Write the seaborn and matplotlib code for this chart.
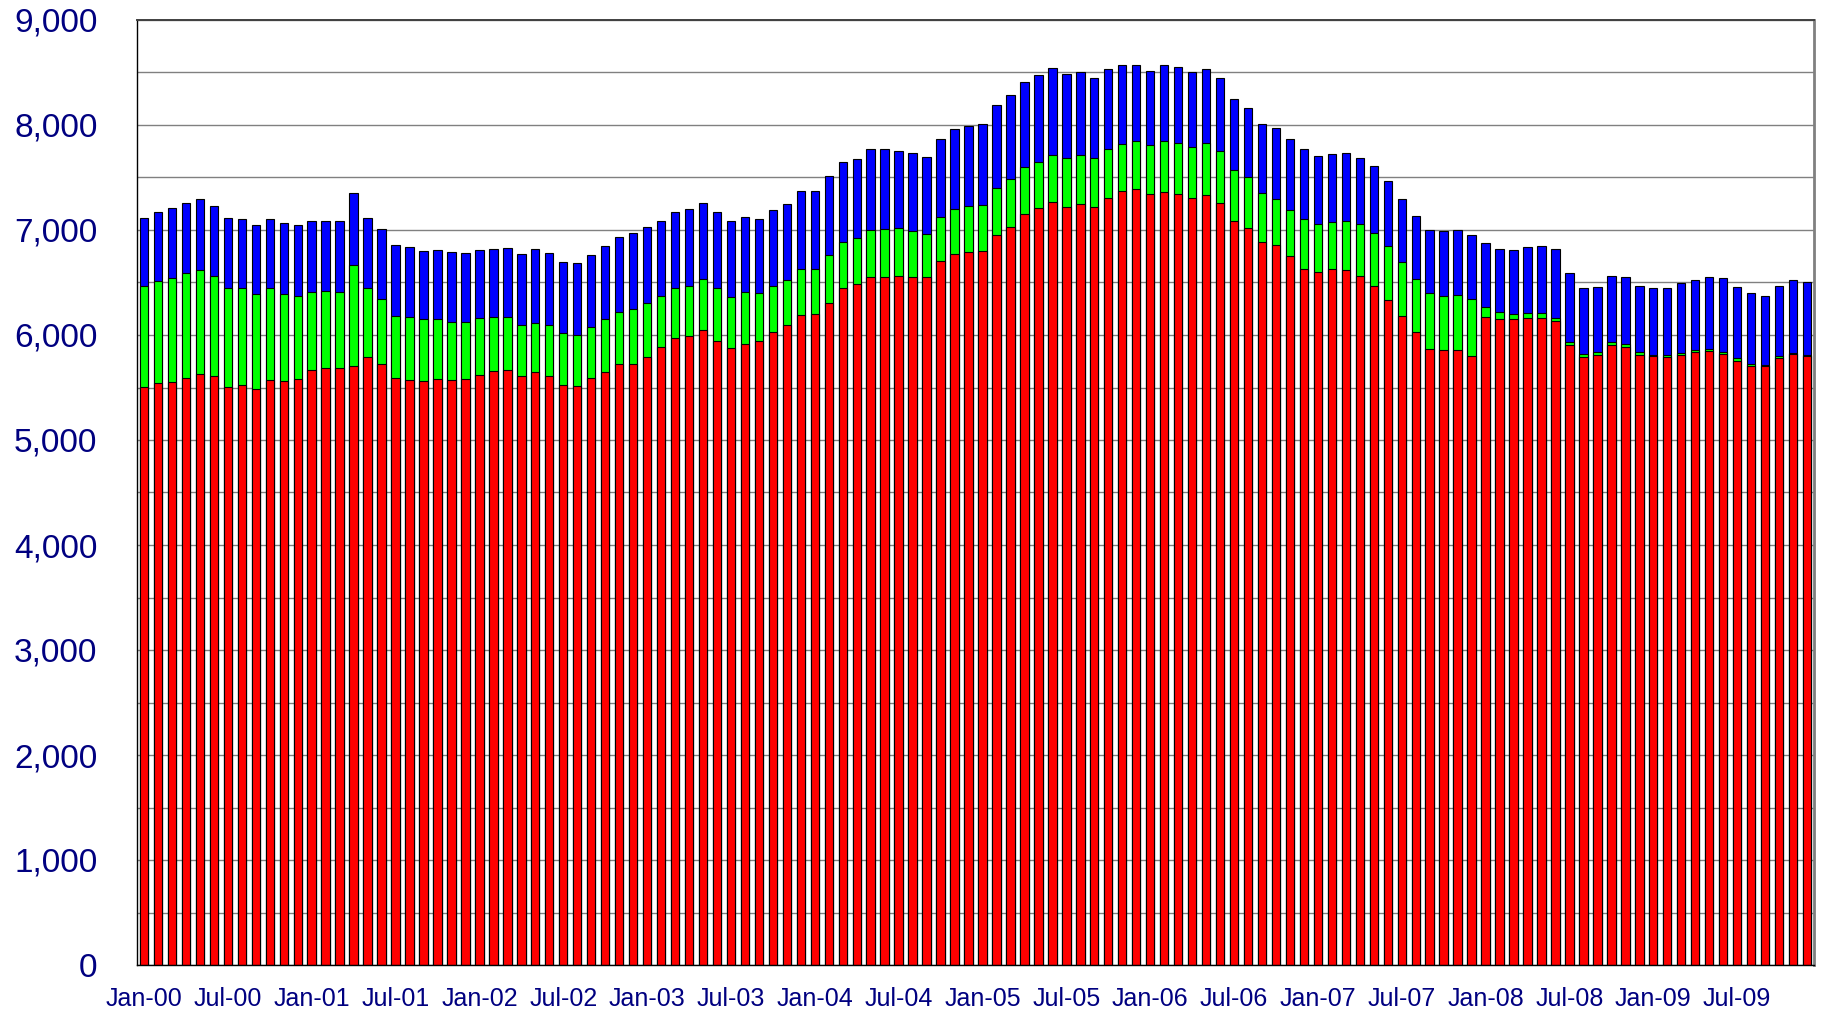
import numpy as np
import pandas as pd
import matplotlib
matplotlib.use("Agg")
import matplotlib.pyplot as plt
import seaborn as sns

# ---- data ----
red = [5506, 5547, 5554, 5595, 5633, 5614, 5509, 5522, 5490, 5576, 5566, 5585,
       5665, 5690, 5684, 5706, 5795, 5722, 5589, 5576, 5560, 5579, 5570, 5585,
       5620, 5658, 5665, 5614, 5643, 5614, 5528, 5519, 5592, 5646, 5728, 5728,
       5795, 5881, 5967, 5986, 6043, 5947, 5875, 5910, 5941, 6027, 6093, 6189,
       6198, 6309, 6443, 6487, 6548, 6554, 6560, 6554, 6548, 6709, 6767, 6786,
       6798, 6957, 7033, 7154, 7211, 7268, 7221, 7249, 7221, 7303, 7376, 7392,
       7341, 7363, 7347, 7300, 7335, 7259, 7084, 7021, 6890, 6854, 6749, 6625,
       6600, 6625, 6622, 6562, 6463, 6330, 6181, 6028, 5870, 5857, 5857, 5797,
       6174, 6155, 6149, 6162, 6159, 6130, 5908, 5790, 5813, 5908, 5889, 5813,
       5797, 5787, 5806, 5838, 5844, 5816, 5749, 5701, 5701, 5781, 5816, 5800]
green = [959, 969, 990, 991, 984, 946, 940, 921, 896, 867, 826, 791,
         746, 731, 721, 965, 654, 625, 590, 597, 591, 572, 552, 543,
         544, 516, 508, 483, 476, 483, 492, 482, 486, 505, 492, 518,
         514, 489, 482, 485, 492, 502, 489, 501, 457, 441, 429, 441,
         432, 454, 444, 438, 450, 457, 457, 435, 412, 416, 435, 444,
         438, 444, 454, 447, 438, 448, 463, 464, 463, 470, 445, 451,
         467, 480, 483, 486, 495, 489, 489, 482, 465, 444, 445, 483,
         460, 454, 467, 492, 511, 521, 517, 508, 530, 517, 527, 549,
         96, 61, 54, 51, 47, 35, 28, 32, 25, 25, 28, 25,
         16, 19, 26, 19, 26, 25, 35, 19, 16, 16, 16, 13]
blue = [654, 654, 670, 673, 677, 673, 670, 660, 666, 666, 673, 676,
        673, 669, 685, 683, 670, 667, 676, 667, 647, 663, 667, 654,
        641, 647, 660, 670, 702, 685, 677, 680, 682, 695, 715, 724,
        715, 720, 721, 727, 724, 727, 726, 711, 711, 721, 721, 737,
        737, 750, 756, 753, 769, 762, 740, 746, 732, 739, 760, 760,
        774, 790, 800, 810, 826, 825, 806, 793, 762, 762, 752, 730,
        705, 730, 718, 714, 705, 698, 670, 660, 655, 673, 676, 660,
        642, 645, 644, 635, 632, 619, 597, 597, 597, 613, 613, 603,
        603, 603, 606, 628, 642, 654, 658, 626, 616, 629, 632, 632,
        635, 642, 660, 670, 679, 702, 676, 677, 658, 673, 692, 695]
month_names = ["Jan", "Feb", "Mar", "Apr", "May", "Jun",
               "Jul", "Aug", "Sep", "Oct", "Nov", "Dec"]
years = list(range(2000, 2010))
months = [f"{m}-{y % 100:02d}" for y in years for m in month_names]
y_ticks = list(range(0, 9001, 1000))

df = pd.DataFrame({"month": months, "red": red, "green": green, "blue": blue})
df["c_red"] = df["red"]
df["c_green"] = df["red"] + df["green"]
df["c_total"] = df["c_green"] + df["blue"]

# ---- figure ----
sns.set_style("white")
plt.rcParams["font.family"] = ["Liberation Sans", "DejaVu Sans"]

W, H, DPI = 1821, 1011, 100
fig = plt.figure(figsize=(W / DPI, H / DPI), dpi=DPI)
ax = fig.add_axes([137 / W, 1 - 965 / H, (1814 - 137) / W, (965 - 20) / H])

bar_kw = dict(width=0.6, edgecolor="black", linewidth=0.8, saturation=1, ax=ax,
              order=months)
sns.barplot(data=df, x="month", y="c_total", color="#0000FF", **bar_kw)
sns.barplot(data=df, x="month", y="c_green", color="#00FF00", **bar_kw)
sns.barplot(data=df, x="month", y="c_red", color="#FF0000", **bar_kw)

ax.set_xlim(-0.5, len(months) - 0.5)
ax.set_ylim(0, 9000)
ax.set_xlabel("")
ax.set_ylabel("")

# y axis
ax.set_yticks(y_ticks)
ax.set_yticks(np.arange(500, 9000, 1000), minor=True)
ax.set_yticklabels([f"{v:,}" for v in y_ticks], fontsize=24, color="#000080")
ax.tick_params(axis="y", which="major", direction="out", length=16.5, width=1.0,
               color="#808080", pad=12)
ax.tick_params(axis="y", which="minor", direction="out", length=10.8, width=1.0,
               color="#808080")
ax.yaxis.grid(True, which="both", color="#808080", linewidth=1.0)
ax.set_axisbelow(True)

# x axis
label_pos = list(range(0, len(months), 6))
ax.set_xticks(label_pos)
ax.set_xticklabels([months[i] for i in label_pos], fontsize=18, color="#000080")
ax.set_xticks(np.arange(-0.5, len(months), 1.0), minor=True)
ax.tick_params(axis="x", which="major", length=0, pad=16)
ax.tick_params(axis="x", which="minor", direction="inout", length=25, width=1.0,
               color="#A0A0A0")
ax.xaxis.grid(False)

for s in ["left", "bottom"]:
    ax.spines[s].set_color("black")
    ax.spines[s].set_linewidth(1.0)
ax.spines["top"].set_color("#404040")
ax.spines["top"].set_linewidth(1.4)
ax.spines["right"].set_color("#808080")
ax.spines["right"].set_linewidth(2.0)

fig.savefig("out.png", dpi=DPI, facecolor="white")
